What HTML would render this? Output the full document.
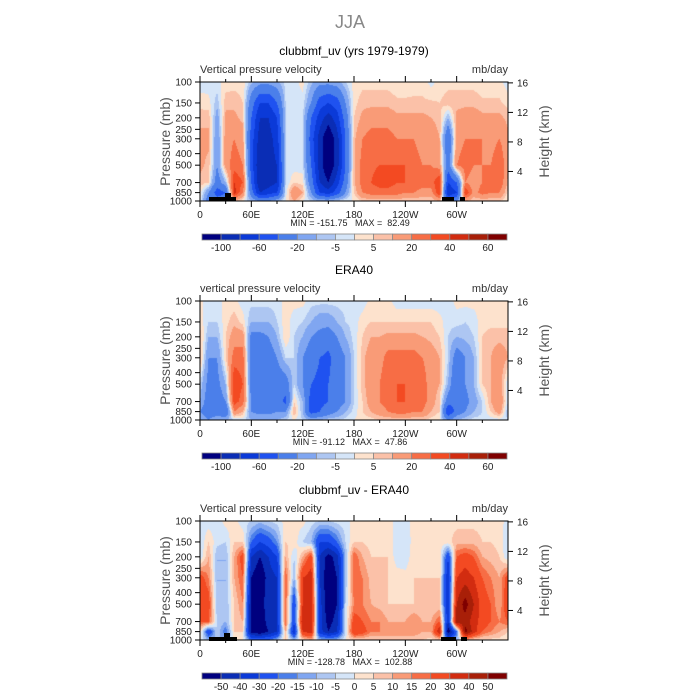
<!DOCTYPE html>
<html><head><meta charset="utf-8"><style>
body{margin:0;background:#fff;}
#wrap{position:relative;width:700px;height:700px;overflow:hidden;font-family:"Liberation Sans",sans-serif;}
canvas{position:absolute;}
svg{position:absolute;left:0;top:0;}
</style></head><body>
<div id="wrap">
<canvas id="c0" width="308" height="119" style="left:200px;top:82px"></canvas>
<canvas id="c1" width="308" height="119" style="left:200px;top:301px"></canvas>
<canvas id="c2" width="308" height="119" style="left:200px;top:521px"></canvas>
<svg id="s" width="700" height="700"></svg>
</div>
<script>
const LONS=[0,10,20,30,40,50,60,70,80,90,100,110,120,130,140,150,160,170,180,190,200,210,220,230,240,250,260,270,280,290,300,310,320,330,340,350,360];
const LEVELS=[100,150,200,300,500,700,850,1000];
const FIELD_MODEL=[
[-3,-3,-2,2,3,3,-8,-15,-15,-12,-3,-2,2,-8,-15,-15,-12,-5,2,3,3,3,3,2,2,3,3,-2,2,3,3,3,3,2,2,2,-3],
[3,2,-8,8,8,5,-30,-60,-60,-40,-5,-3,-2,-20,-50,-60,-50,-20,3,8,8,8,8,6,6,6,6,6,5,8,8,8,8,6,6,6,3],
[8,8,-15,12,12,8,-40,-80,-80,-60,-5,-3,-3,-40,-70,-90,-70,-30,5,12,15,15,15,12,12,12,12,10,8,-10,12,15,15,12,12,12,8],
[12,12,-20,15,20,15,-50,-90,-90,-70,-5,-3,-3,-50,-90,-120,-90,-40,8,20,25,25,25,20,20,20,15,15,10,-40,15,20,20,20,15,20,12],
[12,8,-20,15,25,20,-50,-100,-90,-80,-5,-3,-3,-40,-90,-120,-90,-40,8,25,28,30,30,30,30,25,20,20,15,-30,20,25,20,20,20,30,12],
[8,5,-30,-10,40,30,-40,-100,-90,-80,-5,5,3,-30,-80,-100,-70,-30,8,25,30,35,35,30,30,30,25,25,40,-60,-40,20,15,20,25,30,8],
[3,-20,-50,-40,45,20,-30,-80,-70,-60,-3,20,10,-20,-60,-70,-50,-20,5,20,25,25,25,25,20,20,15,15,40,-80,-60,40,15,25,20,20,3],
[0,-30,-30,-30,10,0,-10,-20,-20,-10,0,10,0,-5,-10,-10,-5,0,0,5,5,5,5,5,5,5,5,5,10,-30,-20,10,5,5,5,5,0]];
const FIELD_ERA=[
[2,-3,-3,2,2,-3,-3,-3,-3,-3,2,2,2,-3,-3,-3,-3,-3,-3,-3,2,2,2,-3,-3,-3,-3,-3,-3,-3,2,2,2,2,2,2,2],
[3,-5,-5,3,8,3,-10,-10,-10,-5,3,-3,-5,-10,-15,-15,-10,-5,-3,3,5,5,5,5,5,5,5,5,2,-3,-3,-5,-3,3,3,3,3],
[8,-10,-10,5,15,15,-25,-25,-20,-10,5,-5,-10,-20,-25,-30,-20,-10,-3,5,10,10,12,12,12,12,10,8,5,-5,-10,-8,-5,5,8,8,8],
[10,-20,-20,5,25,25,-30,-30,-30,-20,-5,-5,-20,-30,-40,-45,-30,-20,-5,8,15,15,25,25,25,25,20,15,10,-5,-30,-20,-10,5,10,15,10],
[-5,-25,-25,-10,40,30,-30,-35,-30,-30,-30,-5,-20,-40,-45,-40,-30,-20,-5,8,15,20,30,30,30,30,25,15,10,-10,-40,-20,-10,5,10,15,-5],
[-10,-30,-30,-20,35,25,-20,-30,-30,-30,-45,5,-10,-50,-45,-40,-30,-20,-5,5,15,20,25,30,30,25,25,15,5,-30,-40,-25,-15,-5,10,20,-5],
[-20,-30,-30,-40,20,10,-20,-25,-25,-20,-20,10,-10,-50,-40,-30,-20,-10,-3,5,10,15,20,25,25,20,20,10,5,-60,-30,-20,-10,-5,5,15,-10],
[-10,-20,-10,-10,-5,-3,-10,-10,-10,-10,-5,0,-5,-10,-10,-5,-5,-3,0,2,3,5,5,5,5,5,5,3,0,-20,-10,-5,-3,-3,-3,-3,-5]];
const FIELD_DIFF=[
[-3,-3,-3,2,2,-3,-5,-8,-5,-3,2,2,2,-3,-5,-5,-3,-2,2,3,3,3,3,-3,-3,3,3,3,3,3,3,3,3,3,3,3,-3],
[-5,5,-3,-5,5,5,-20,-30,-25,-15,5,3,-5,-10,-30,-30,-20,-5,5,5,3,3,3,-3,-5,3,3,3,3,3,8,8,8,5,5,3,-5],
[-5,10,-10,-10,10,25,-40,-50,-40,-30,10,-5,10,25,-40,-55,-45,-10,20,10,5,5,5,-3,-5,5,3,3,5,-30,20,25,20,10,8,5,-5],
[25,15,-10,-10,10,20,-50,-60,-45,-40,20,-10,30,35,-40,-60,-50,-10,20,15,8,8,5,3,3,5,5,5,5,-40,30,35,30,20,15,10,25],
[30,25,-10,-10,5,15,-55,-60,-40,-40,20,-30,30,40,-35,-60,-50,-5,15,15,10,8,5,5,5,5,5,5,5,-40,40,55,40,25,20,10,30],
[20,20,-5,-10,5,10,-55,-60,-45,-40,20,-30,40,40,-35,-55,-45,-5,25,20,15,15,10,10,10,15,10,10,20,-40,50,45,35,25,20,15,20],
[5,-30,-5,-20,5,5,-55,-60,-50,-40,10,-40,30,35,-35,-50,-40,-5,30,25,15,15,15,15,15,15,10,10,40,-60,-20,55,35,20,15,10,5],
[0,-10,-10,-10,0,0,-20,-20,-20,-10,5,-10,5,10,-10,-10,-10,0,5,5,5,5,5,5,5,5,5,3,5,-20,-10,10,5,3,3,3,0]];
const BOUNDS_FULL=[-100,-80,-60,-40,-20,-10,-5,0,5,10,20,30,40,50,60];
const BOUNDS_DIFF=[-50,-40,-30,-20,-15,-10,-5,0,5,10,15,20,30,40,50];
const LABELS_FULL=["-100","-60","-20","-5","5","20","40","60"];
const LABELS_DIFF=["-50","-40","-30","-20","-15","-10","-5","0","5","10","15","20","30","40","50"];
const TITLES=["clubbmf_uv (yrs 1979-1979)","ERA40","clubbmf_uv - ERA40"];
const MINS=["-151.75","-91.12","-128.78"];
const MAXS=["82.49","47.86","102.88"];
const P_TICKS=[100,150,200,250,300,400,500,700,850,1000];
const H_TICKS=[4,8,12,16];
const X_TICKS=[0,60,120,180,240,300];
const X_LABELS=["0","60E","120E","180","120W","60W"];
const COLORS=["#00007f","#0a2db5","#0b3ad8","#1f52f0","#4b7fea","#80a6f1","#adc6f2","#d5e5f8","#fde2cd","#fbc1a8","#f99b77","#f76d45","#f34a22","#d22c10","#a81f08","#7f0000"];
const W=308,H=119,X0=200;
const OFFS=[0,219,439];
const FIELDS=[FIELD_MODEL,FIELD_ERA,FIELD_DIFF];
const BSETS=[BOUNDS_FULL,BOUNDS_FULL,BOUNDS_DIFF];
function yP(p,off){return 82+off+(Math.log10(p)-2)*H;}
function xL(l){return X0+l/360*W;}
function rgb(h){return [parseInt(h.substr(1,2),16),parseInt(h.substr(3,2),16),parseInt(h.substr(5,2),16)];}
const RGB=COLORS.map(rgb);
function sample(F,lon,p){
  let i=Math.min(LONS.length-2,Math.floor(lon/10)); let fx=(lon-LONS[i])/(LONS[i+1]-LONS[i]);
  let lp=Math.log10(p),j=0;
  while(j<LEVELS.length-2&&Math.log10(LEVELS[j+1])<lp)j++;
  let a=Math.log10(LEVELS[j]),b=Math.log10(LEVELS[j+1]);let fy=Math.max(0,Math.min(1,(lp-a)/(b-a)));
  let v0=F[j][i]*(1-fx)+F[j][i+1]*fx, v1=F[j+1][i]*(1-fx)+F[j+1][i+1]*fx;
  return v0*(1-fy)+v1*fy;
}
FIELDS.forEach((F,k)=>{
  const cv=document.getElementById('c'+k),ctx=cv.getContext('2d');
  const img=ctx.createImageData(W,H);
  for(let py=0;py<H;py++){const p=Math.pow(10,2+(py+0.5)/H);
    for(let px=0;px<W;px++){const lon=(px+0.5)/W*360;const v=sample(F,lon,p);
      let c=0;while(c<BSETS[k].length&&v>=BSETS[k][c])c++;
      const o=(py*W+px)*4,col=RGB[c];img.data[o]=col[0];img.data[o+1]=col[1];img.data[o+2]=col[2];img.data[o+3]=255;}}
  ctx.putImageData(img,0,0);
});
const S=document.getElementById('s');const NS="http://www.w3.org/2000/svg";
function el(t,a,txt){const e=document.createElementNS(NS,t);for(const k in a)e.setAttribute(k,a[k]);if(txt!==undefined)e.textContent=txt;S.appendChild(e);return e;}
let t=el('text',{x:350,y:28,'text-anchor':'middle','font-size':18,fill:'#888'},'JJA');


const MASKS=[[[209,197,27,4],[225,193,6,4],[442,197,12,4],[460,197,5,4]],[],[[209,637,28,4],[224,633,6,4],[441,637,15,4],[461,637,6,4]]];
OFFS.forEach((off,k)=>{
  const top=82+off,bot=201+off;
  t=el('text',{x:354,y:55+off,'text-anchor':'middle','font-size':12,fill:'#000'},TITLES[k]);
  
  
  t=el('text',{x:200,y:73+off,'font-size':11,fill:'#333'},k===1?'vertical pressure velocity':'Vertical pressure velocity');
  
  
  t=el('text',{x:508,y:73+off,'text-anchor':'end','font-size':11,fill:'#333'},'mb/day');
  
  
  MASKS[k].forEach(m=>{const r=el('rect',{x:m[0],y:m[1],width:m[2],height:m[3],fill:'#000'});
    
    });
  let f=el('rect',{x:200,y:top,width:W,height:H,fill:'none',stroke:'#000','stroke-width':1});
  
  
  P_TICKS.forEach(p=>{const y=yP(p,off);el('line',{x1:195,x2:200,y1:y,y2:y,stroke:'#000'});
    t=el('text',{x:192,y:y+3.5,'text-anchor':'end','font-size':10,fill:'#222'},String(p));
    
    });
  H_TICKS.forEach(h=>{const p=1000*Math.exp(-h/7);const y=yP(p,off);el('line',{x1:508,x2:513,y1:y,y2:y,stroke:'#000'});
    t=el('text',{x:517,y:y+3.5,'font-size':10,fill:'#222'},String(h));
    
    });
  for(let l=0;l<360;l+=30){const x=xL(l),len=l%60?3:6;
    el('line',{x1:x,x2:x,y1:bot,y2:bot+len,stroke:'#000'});el('line',{x1:x,x2:x,y1:top,y2:top-len,stroke:'#000'});}
  X_TICKS.forEach((l,i)=>{t=el('text',{x:xL(l),y:bot+17,'text-anchor':'middle','font-size':10,fill:'#222'},X_LABELS[i]);
    
    });
  t=el('text',{x:350,y:bot+25,'text-anchor':'middle','font-size':9,fill:'#222',style:'white-space:pre'},'MIN = '+MINS[k]+'   MAX =  '+MAXS[k]);
  
  
  t=el('text',{x:0,y:0,'text-anchor':'middle','font-size':14,fill:'#555',transform:`translate(170,${(top+bot)/2}) rotate(-90)`},'Pressure (mb)');
  
  
  t=el('text',{x:0,y:0,'text-anchor':'middle','font-size':14,fill:'#555',transform:`translate(549,${(top+bot)/2}) rotate(-90)`},'Height (km)');
  
  
  const cy=234+off,cw=(507-202)/16;
  COLORS.forEach((c,i)=>{const r=el('rect',{x:202+i*cw,y:cy,width:cw,height:6,fill:c,stroke:'#888','stroke-width':0.8});
    
    });
  if(k<2){LABELS_FULL.forEach((s,i)=>{t=el('text',{x:202+(2*i+1)*cw,y:cy+17,'text-anchor':'middle','font-size':10,fill:'#222'},s);
      
      });}
  else {LABELS_DIFF.forEach((s,i)=>{t=el('text',{x:202+(i+1)*cw,y:cy+17,'text-anchor':'middle','font-size':10,fill:'#222'},s);
      
      });}
});
</script>
</body></html>
